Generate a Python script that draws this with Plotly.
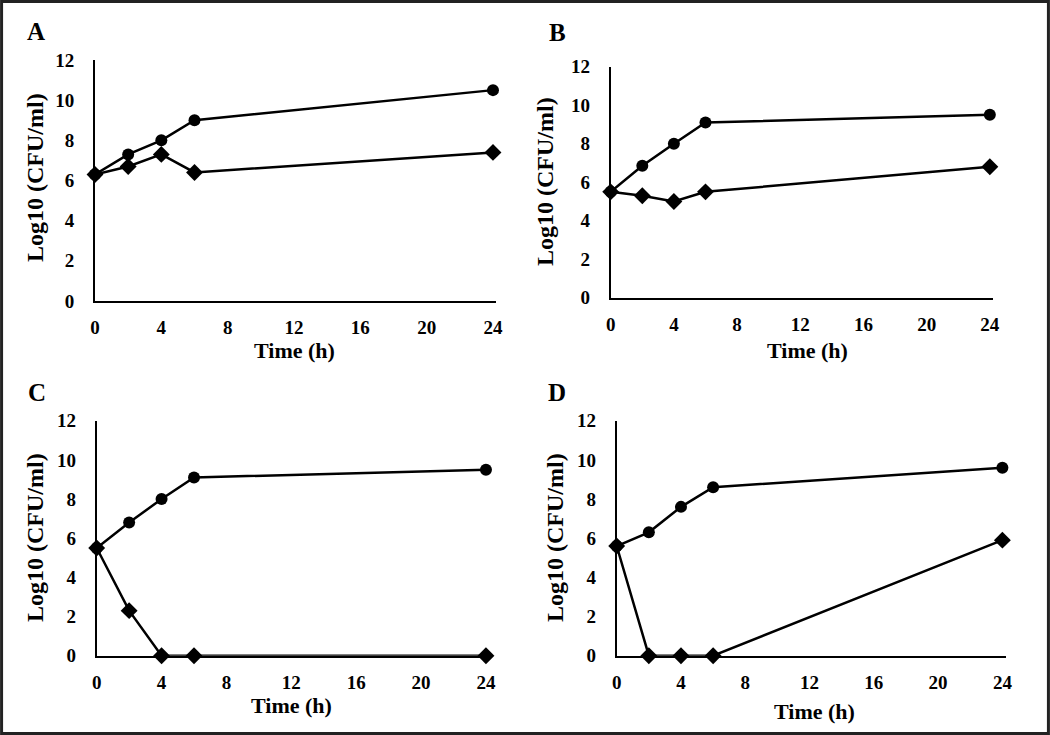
import plotly.graph_objects as go

time_h = [0, 2, 4, 6, 24]
x_ticks = [0, 4, 8, 12, 16, 20, 24]
y_ticks = [0, 2, 4, 6, 8, 10, 12]
panel_labels = ["A", "B", "C", "D"]

a_circle = [6.3, 7.3, 8.0, 9.0, 10.5]
a_diamond = [6.3, 6.7, 7.3, 6.4, 7.4]
b_circle = [5.5, 6.85, 8.0, 9.1, 9.5]
b_diamond = [5.5, 5.3, 5.0, 5.5, 6.8]
c_circle = [5.5, 6.8, 8.0, 9.1, 9.5]
c_diamond = [5.5, 2.3, 0, 0, 0]
d_circle = [5.6, 6.3, 7.6, 8.6, 9.6]
d_diamond = [5.6, 0, 0, 0, 5.9]

circles = [a_circle, b_circle, c_circle, d_circle]
diamonds = [a_diamond, b_diamond, c_diamond, d_diamond]

W, H = 1050, 735
# pixel boxes: (x0, x1, ytop, ybottom)
boxes = [(95, 496.3, 60, 301), (610.7, 993, 66.7, 297.7),
         (96.7, 489.2, 420.7, 655.7), (616.7, 1005.6, 420.7, 655.7)]
letter_pos = [(36, 31), (557, 33), (37, 392), (557, 392)]
xtitle_pos = [(294, 351), (807, 351), (291, 705), (814, 711)]
ytitle_pos = [(35, 178), (545, 182), (35, 538), (555, 538)]

FONT = "Liberation Serif"
fig = go.Figure()
annotations = []
for i in range(4):
    sfx = "" if i == 0 else str(i + 1)
    xa, ya = "x" + sfx, "y" + sfx
    fig.add_trace(go.Scatter(x=time_h, y=circles[i], mode="lines+markers",
                             line=dict(color="black", width=2.5),
                             marker=dict(symbol="circle", size=12, color="black"),
                             xaxis=xa, yaxis=ya, cliponaxis=False, showlegend=False))
    fig.add_trace(go.Scatter(x=time_h, y=diamonds[i], mode="lines+markers",
                             line=dict(color="black", width=2.5),
                             marker=dict(symbol="diamond", size=13, color="black"),
                             xaxis=xa, yaxis=ya, cliponaxis=False, showlegend=False))
    x0, x1, yt, yb = boxes[i]
    fig.update_layout(**{
        "xaxis" + sfx: dict(domain=[x0 / W, x1 / W], anchor=ya, range=[0, 24.2],
                            tickvals=x_ticks, showgrid=False, zeroline=False, automargin=False,
                            showline=True, linecolor="black", linewidth=2, ticks="",
                            ticklabelstandoff=8,
                            tickfont=dict(family=FONT, size=19, color="black", weight="bold")),
        "yaxis" + sfx: dict(domain=[1 - yb / H, 1 - yt / H], anchor=xa, range=[0, 12],
                            tickvals=y_ticks, showgrid=False, zeroline=False, automargin=False,
                            showline=True, linecolor="black", linewidth=2, ticks="",
                            ticklabelstandoff=15,
                            tickfont=dict(family=FONT, size=19, color="black", weight="bold")),
    })
    lx, ly = letter_pos[i]
    annotations.append(dict(text=panel_labels[i], x=lx / W, y=1 - ly / H, xref="paper", yref="paper",
                            showarrow=False, xanchor="center", yanchor="middle",
                            font=dict(family=FONT, size=25, color="black", weight="bold")))
    tx, ty = xtitle_pos[i]
    annotations.append(dict(text="Time (h)", x=tx / W, y=1 - ty / H, xref="paper", yref="paper",
                            showarrow=False, xanchor="center", yanchor="middle",
                            font=dict(family=FONT, size=22, color="black", weight="bold")))
    vx, vy = ytitle_pos[i]
    annotations.append(dict(text="Log10 (CFU/ml)", x=vx / W, y=1 - vy / H, xref="paper", yref="paper",
                            showarrow=False, xanchor="center", yanchor="middle", textangle=-90,
                            font=dict(family=FONT, size=24, color="black", weight="bold")))

fig.update_layout(
    template="none",
    width=W, height=H, margin=dict(l=0, r=0, t=0, b=0, autoexpand=False),
    paper_bgcolor="white", plot_bgcolor="white",
    annotations=annotations,
    shapes=[dict(type="rect", xref="paper", yref="paper", x0=0.0015, y0=0.002, x1=0.9985, y1=0.998,
                 line=dict(color="#222222", width=3))],
)
fig.write_html("out.html", config={"displayModeBar": False},
               post_script="document.body.style.margin='0px';")
